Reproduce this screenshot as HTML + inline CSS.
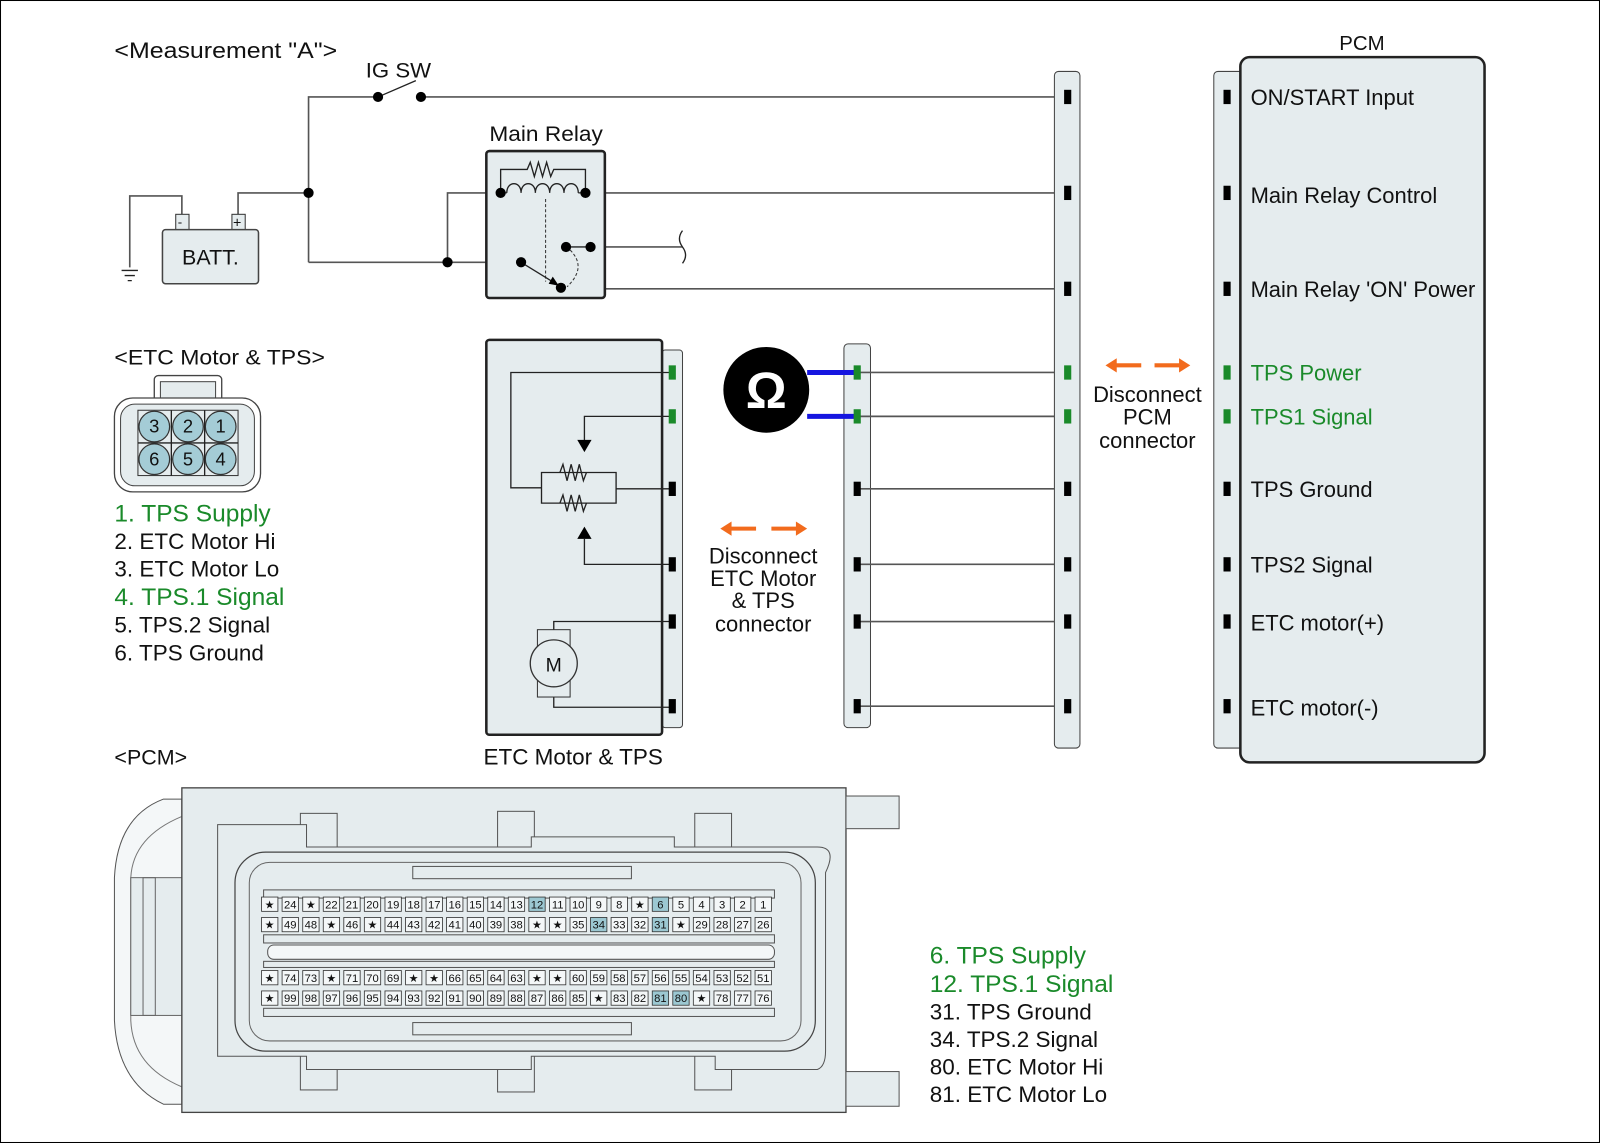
<!DOCTYPE html>
<html><head><meta charset="utf-8"><style>
html,body{margin:0;padding:0;background:#fff}
svg{display:block}
text{font-family:"Liberation Sans",sans-serif;fill:#111}
.g{fill:#1a8a2a}
.w{stroke:#555;stroke-width:1.6;fill:none}
.k{stroke:#222;stroke-width:1.3;fill:none}
.pt text{font-size:11px;text-anchor:middle}
</style></head><body>
<svg width="1600" height="1143" viewBox="0 0 1566 1120" preserveAspectRatio="none" xmlns="http://www.w3.org/2000/svg">
<defs>
<rect id="c" x="-8" y="-7" width="16" height="14" fill="#f4f7f8" stroke="#333" stroke-width="0.8"/>
<rect id="h" x="-8" y="-7" width="16" height="14" fill="#9cc8d2" stroke="#333" stroke-width="0.8"/>
<rect id="p" x="-3.5" y="-7" width="7" height="14" fill="#000"/>
<rect id="pg" x="-3.5" y="-7" width="7" height="14" fill="#1a8a2a"/>
</defs>
<rect x="0.5" y="0.5" width="1565" height="1119" fill="#fff" stroke="#000"/>

<!-- top labels -->
<text x="112" y="57" font-size="22" textLength="218" lengthAdjust="spacingAndGlyphs">&lt;Measurement "A"&gt;</text>
<text x="358" y="76" font-size="21" textLength="64" lengthAdjust="spacingAndGlyphs">IG SW</text>
<text x="479" y="138" font-size="21" textLength="111" lengthAdjust="spacingAndGlyphs">Main Relay</text>

<!-- wiring top -->
<path class="w" d="M302 257 V95 H370 M412 95 H1045 M302 189 H233 V210 M178 210 V192 H127 V262 M302 257 H510 M438 257 V189 H490 M573 189 H1045 M578 242 H668 M578 242 V283 H1045"/>
<path class="k" d="M370 95 L407 79"/>
<circle cx="370" cy="95" r="5" fill="#000"/><circle cx="412" cy="95" r="5" fill="#000"/>
<circle cx="302" cy="189" r="5" fill="#000"/><circle cx="438" cy="257" r="5" fill="#000"/>
<path class="k" d="M668 226 q-6 8 0 16 q6 8 0 16"/>
<path class="k" d="M119 265 H135 M122 270 H132 M125 275 H129"/>
<!-- battery -->
<rect x="172" y="210" width="13" height="15" fill="#e5ecee" stroke="#333"/>
<rect x="227" y="210" width="13" height="15" fill="#e5ecee" stroke="#333"/>
<text x="174" y="222" font-size="13">-</text><text x="228" y="223" font-size="14">+</text>
<rect x="159" y="225" width="94" height="53" rx="3" fill="#e5ecee" stroke="#444" stroke-width="1.5"/>
<text x="206" y="259" font-size="21" text-anchor="middle">BATT.</text>
<!-- relay -->
<rect x="476" y="148" width="116" height="144" rx="3" fill="#e5ecee" stroke="#222" stroke-width="2.5"/>
<path class="k" d="M490 189 V166 H516 l3 -7 l4 14 l4 -14 l4 14 l4 -14 l4 14 l3 -7 H573 V189"/>
<path class="k" d="M496 189 c0 -12 14 -12 14 0 c0 -12 14 -12 14 0 c0 -12 14 -12 14 0 c0 -12 14 -12 14 0 c0 -12 14 -12 14 0"/>
<path class="k" d="M490 189 H496 M566 189 H573"/>
<path d="M534 195 V276" stroke="#333" stroke-dasharray="3,2" fill="none"/>
<path d="M558 245 Q575 262 555 281" stroke="#333" stroke-dasharray="3,2" fill="none"/>
<path class="k" d="M510 257 L544 278"/><path d="M547 280 L537 278 L541 271 Z" fill="#000"/>
<path class="k" d="M554 242 H578"/>
<circle cx="490" cy="189" r="5" fill="#000"/><circle cx="573" cy="189" r="5" fill="#000"/>
<circle cx="510" cy="257" r="5" fill="#000"/><circle cx="549" cy="282" r="5" fill="#000"/>
<circle cx="554" cy="242" r="5" fill="#000"/><circle cx="578" cy="242" r="5" fill="#000"/>

<!-- ETC connector icon -->
<text x="112" y="357" font-size="21" textLength="206" lengthAdjust="spacingAndGlyphs">&lt;ETC Motor &amp; TPS&gt;</text>
<rect x="151" y="368" width="66" height="30" rx="4" fill="#fff" stroke="#444" stroke-width="1.3"/>
<rect x="157" y="374" width="54" height="24" fill="#e5ecee" stroke="#444"/>
<rect x="112" y="390" width="143" height="92" rx="18" fill="#fff" stroke="#444" stroke-width="1.3"/>
<rect x="118" y="396" width="131" height="80" rx="14" fill="#e5ecee" stroke="#444"/>
<rect x="135" y="402" width="98" height="64" fill="#e5ecee" stroke="#333"/>
<path class="k" d="M167.7 402 V466 M200.3 402 V466 M135 434 H233"/>
<g fill="#a4ccd6" stroke="#333" stroke-width="1.2">
<circle cx="151" cy="418" r="15"/><circle cx="184" cy="418" r="15"/><circle cx="216" cy="418" r="15"/>
<circle cx="151" cy="450" r="15"/><circle cx="184" cy="450" r="15"/><circle cx="216" cy="450" r="15"/></g>
<g font-size="18" text-anchor="middle">
<text x="151" y="424">3</text><text x="184" y="424">2</text><text x="216" y="424">1</text>
<text x="151" y="456">6</text><text x="184" y="456">5</text><text x="216" y="456">4</text></g>
<g font-size="22">
<text x="112" y="511" class="g" font-size="24">1. TPS Supply</text>
<text x="112" y="538">2. ETC Motor Hi</text>
<text x="112" y="565">3. ETC Motor Lo</text>
<text x="112" y="593" class="g" font-size="24">4. TPS.1 Signal</text>
<text x="112" y="620">5. TPS.2 Signal</text>
<text x="112" y="647">6. TPS Ground</text>
</g>

<!-- ETC Motor box -->
<rect x="648" y="343" width="20" height="370" rx="3" fill="#e5ecee" stroke="#444"/>
<rect x="476" y="333" width="172" height="387" rx="3" fill="#e5ecee" stroke="#222" stroke-width="2.5"/>
<text x="561" y="749" font-size="22" text-anchor="middle">ETC Motor &amp; TPS</text>
<path class="k" d="M658 365 H500 V478 H530 M530 463 H603 V493 H530 Z M603 479 H658 M658 408 H572 V432 M572 528 V553 H658 M542 627 V609 H658 M542 673 V693 H658"/>
<path class="k" d="M548 463 l3 -8 l4 16 l4 -16 l4 16 l4 -16 l4 16 l3 -8 M548 493 l3 -8 l4 16 l4 -16 l4 16 l4 -16 l4 16 l3 -8" fill="#e5ecee"/>
<path d="M565 431 H579 L572 443 Z M565 528 H579 L572 516 Z" fill="#000"/>
<rect x="526" y="617" width="32" height="66" fill="#e5ecee" stroke="#333"/>
<circle cx="542" cy="650" r="23" fill="#e5ecee" stroke="#333" stroke-width="1.3"/>
<text x="542" y="658" font-size="19" text-anchor="middle">M</text>
<use href="#pg" x="658" y="365"/><use href="#pg" x="658" y="408"/>
<use href="#p" x="658" y="479"/><use href="#p" x="658" y="553"/><use href="#p" x="658" y="609"/><use href="#p" x="658" y="692"/>

<!-- middle disconnect -->
<g fill="#f26b1d">
<path d="M705 518 L716 511 V516 H740 V520 H716 V525 Z"/><path d="M790 518 L779 511 V516 H755 V520 H779 V525 Z"/>
<path d="M1082 358 L1093 351 V356 H1117 V360 H1093 V365 Z"/><path d="M1165 358 L1154 351 V356 H1130 V360 H1154 V365 Z"/>
</g>
<g font-size="21.5" text-anchor="middle">
<text x="747" y="552">Disconnect</text><text x="747" y="574">ETC Motor</text><text x="747" y="596">&amp; TPS</text><text x="747" y="619">connector</text>
<text x="1123" y="394">Disconnect</text><text x="1123" y="416">PCM</text><text x="1123" y="439">connector</text>
</g>

<!-- middle strip -->
<rect x="826" y="337" width="26" height="376" rx="4" fill="#e5ecee" stroke="#444"/>
<path class="w" d="M839 365 H1045 M839 408 H1045 M839 479 H1045 M839 553 H1045 M839 609 H1045 M839 692 H1045"/>
<path d="M790 365 H839 M790 408 H839" stroke="#1515e0" stroke-width="5"/>
<circle cx="750" cy="382" r="42" fill="#000"/>
<text x="750" y="400" font-size="50" font-weight="bold" text-anchor="middle" style="fill:#fff">Ω</text>
<use href="#pg" x="839" y="365"/><use href="#pg" x="839" y="408"/>
<use href="#p" x="839" y="479"/><use href="#p" x="839" y="553"/><use href="#p" x="839" y="609"/><use href="#p" x="839" y="692"/>

<!-- PCM side strip -->
<rect x="1032" y="70" width="25" height="663" rx="4" fill="#e5ecee" stroke="#444"/>
<use href="#p" x="1045" y="95"/><use href="#p" x="1045" y="189"/><use href="#p" x="1045" y="283"/>
<use href="#pg" x="1045" y="365"/><use href="#pg" x="1045" y="408"/>
<use href="#p" x="1045" y="479"/><use href="#p" x="1045" y="553"/><use href="#p" x="1045" y="609"/><use href="#p" x="1045" y="692"/>

<!-- PCM box -->
<text x="1333" y="49" font-size="20" text-anchor="middle">PCM</text>
<rect x="1188" y="70" width="30" height="663" rx="4" fill="#e5ecee" stroke="#444"/>
<rect x="1214" y="56" width="239" height="691" rx="9" fill="#e5ecee" stroke="#222" stroke-width="2.5"/>
<use href="#p" x="1201" y="95"/><use href="#p" x="1201" y="189"/><use href="#p" x="1201" y="283"/>
<use href="#pg" x="1201" y="365"/><use href="#pg" x="1201" y="408"/>
<use href="#p" x="1201" y="479"/><use href="#p" x="1201" y="553"/><use href="#p" x="1201" y="609"/><use href="#p" x="1201" y="692"/>
<g font-size="21.5">
<text x="1224" y="103">ON/START Input</text>
<text x="1224" y="199">Main Relay Control</text>
<text x="1224" y="291" textLength="220" lengthAdjust="spacingAndGlyphs">Main Relay 'ON' Power</text>
<text x="1224" y="373" class="g">TPS Power</text>
<text x="1224" y="416" class="g">TPS1 Signal</text>
<text x="1224" y="487">TPS Ground</text>
<text x="1224" y="561">TPS2 Signal</text>
<text x="1224" y="618">ETC motor(+)</text>
<text x="1224" y="701">ETC motor(-)</text>
</g>

<!-- PCM connector -->
<text x="112" y="749" font-size="21">&lt;PCM&gt;</text>
<path d="M178 783 H160 Q115 800 112 860 V1000 Q115 1060 160 1082 H178 Z" fill="#f4f7f8" stroke="#555"/>
<path d="M178 800 Q130 820 128 860 V1000 Q130 1045 178 1065" fill="none" stroke="#777"/>
<rect x="128" y="860" width="50" height="135" fill="#e5ecee" stroke="#666"/>
<rect x="140" y="860" width="12" height="135" fill="none" stroke="#666"/>
<rect x="178" y="772" width="650" height="318" fill="#e5ecee" stroke="#444" stroke-width="1.3"/>
<rect x="828" y="780" width="52" height="32" fill="#e5ecee" stroke="#555"/>
<rect x="828" y="1050" width="52" height="34" fill="#e5ecee" stroke="#555"/>
<g fill="#e5ecee" stroke="#555">
<rect x="294" y="797" width="36" height="38"/><rect x="487" y="795" width="36" height="40"/><rect x="680" y="797" width="36" height="38"/>
<rect x="294" y="1030" width="36" height="38"/><rect x="487" y="1030" width="36" height="40"/><rect x="680" y="1030" width="36" height="38"/>
</g>
<path d="M213 808 H300 V830 H520 V820 H660 V830 H800 Q820 830 808 855 V1030 Q808 1045 800 1048 H700 V1035 H520 V1048 H300 V1035 H213 Z" fill="#e5ecee" stroke="#555"/>
<rect x="230" y="835" width="568" height="195" rx="30" fill="#e5ecee" stroke="#444" stroke-width="1.2"/>
<rect x="244" y="845" width="540" height="175" rx="20" fill="#e5ecee" stroke="#666"/>
<rect x="258" y="872" width="500" height="8" fill="none" stroke="#555"/>
<rect x="258" y="916" width="500" height="8" fill="none" stroke="#555"/>
<rect x="262" y="926" width="496" height="14" rx="6" fill="#f4f7f8" stroke="#555"/>
<rect x="258" y="942" width="500" height="6" fill="none" stroke="#555"/>
<rect x="258" y="988" width="500" height="8" fill="none" stroke="#555"/>
<rect x="404" y="849" width="214" height="12" fill="none" stroke="#555"/>
<rect x="404" y="1002" width="214" height="12" fill="none" stroke="#555"/>

<g class="pt">
<g transform="translate(0,886)">
<use href="#c" x="264"/><text x="264" y="4">★</text>
<use href="#c" x="284.1"/><text x="284.1" y="4">24</text>
<use href="#c" x="304.3"/><text x="304.3" y="4">★</text>
<use href="#c" x="324.4"/><text x="324.4" y="4">22</text>
<use href="#c" x="344.5"/><text x="344.5" y="4">21</text>
<use href="#c" x="364.6"/><text x="364.6" y="4">20</text>
<use href="#c" x="384.8"/><text x="384.8" y="4">19</text>
<use href="#c" x="404.9"/><text x="404.9" y="4">18</text>
<use href="#c" x="425"/><text x="425" y="4">17</text>
<use href="#c" x="445.1"/><text x="445.1" y="4">16</text>
<use href="#c" x="465.3"/><text x="465.3" y="4">15</text>
<use href="#c" x="485.4"/><text x="485.4" y="4">14</text>
<use href="#c" x="505.5"/><text x="505.5" y="4">13</text>
<use href="#h" x="525.6"/><text x="525.6" y="4">12</text>
<use href="#c" x="545.8"/><text x="545.8" y="4">11</text>
<use href="#c" x="565.9"/><text x="565.9" y="4">10</text>
<use href="#c" x="586"/><text x="586" y="4">9</text>
<use href="#c" x="606.1"/><text x="606.1" y="4">8</text>
<use href="#c" x="626.3"/><text x="626.3" y="4">★</text>
<use href="#h" x="646.4"/><text x="646.4" y="4">6</text>
<use href="#c" x="666.5"/><text x="666.5" y="4">5</text>
<use href="#c" x="686.6"/><text x="686.6" y="4">4</text>
<use href="#c" x="706.8"/><text x="706.8" y="4">3</text>
<use href="#c" x="726.9"/><text x="726.9" y="4">2</text>
<use href="#c" x="747"/><text x="747" y="4">1</text>
</g>
<g transform="translate(0,906)">
<use href="#c" x="264"/><text x="264" y="4">★</text>
<use href="#c" x="284.1"/><text x="284.1" y="4">49</text>
<use href="#c" x="304.3"/><text x="304.3" y="4">48</text>
<use href="#c" x="324.4"/><text x="324.4" y="4">★</text>
<use href="#c" x="344.5"/><text x="344.5" y="4">46</text>
<use href="#c" x="364.6"/><text x="364.6" y="4">★</text>
<use href="#c" x="384.8"/><text x="384.8" y="4">44</text>
<use href="#c" x="404.9"/><text x="404.9" y="4">43</text>
<use href="#c" x="425"/><text x="425" y="4">42</text>
<use href="#c" x="445.1"/><text x="445.1" y="4">41</text>
<use href="#c" x="465.3"/><text x="465.3" y="4">40</text>
<use href="#c" x="485.4"/><text x="485.4" y="4">39</text>
<use href="#c" x="505.5"/><text x="505.5" y="4">38</text>
<use href="#c" x="525.6"/><text x="525.6" y="4">★</text>
<use href="#c" x="545.8"/><text x="545.8" y="4">★</text>
<use href="#c" x="565.9"/><text x="565.9" y="4">35</text>
<use href="#h" x="586"/><text x="586" y="4">34</text>
<use href="#c" x="606.1"/><text x="606.1" y="4">33</text>
<use href="#c" x="626.3"/><text x="626.3" y="4">32</text>
<use href="#h" x="646.4"/><text x="646.4" y="4">31</text>
<use href="#c" x="666.5"/><text x="666.5" y="4">★</text>
<use href="#c" x="686.6"/><text x="686.6" y="4">29</text>
<use href="#c" x="706.8"/><text x="706.8" y="4">28</text>
<use href="#c" x="726.9"/><text x="726.9" y="4">27</text>
<use href="#c" x="747"/><text x="747" y="4">26</text>
</g>
<g transform="translate(0,958)">
<use href="#c" x="264"/><text x="264" y="4">★</text>
<use href="#c" x="284.1"/><text x="284.1" y="4">74</text>
<use href="#c" x="304.3"/><text x="304.3" y="4">73</text>
<use href="#c" x="324.4"/><text x="324.4" y="4">★</text>
<use href="#c" x="344.5"/><text x="344.5" y="4">71</text>
<use href="#c" x="364.6"/><text x="364.6" y="4">70</text>
<use href="#c" x="384.8"/><text x="384.8" y="4">69</text>
<use href="#c" x="404.9"/><text x="404.9" y="4">★</text>
<use href="#c" x="425"/><text x="425" y="4">★</text>
<use href="#c" x="445.1"/><text x="445.1" y="4">66</text>
<use href="#c" x="465.3"/><text x="465.3" y="4">65</text>
<use href="#c" x="485.4"/><text x="485.4" y="4">64</text>
<use href="#c" x="505.5"/><text x="505.5" y="4">63</text>
<use href="#c" x="525.6"/><text x="525.6" y="4">★</text>
<use href="#c" x="545.8"/><text x="545.8" y="4">★</text>
<use href="#c" x="565.9"/><text x="565.9" y="4">60</text>
<use href="#c" x="586"/><text x="586" y="4">59</text>
<use href="#c" x="606.1"/><text x="606.1" y="4">58</text>
<use href="#c" x="626.3"/><text x="626.3" y="4">57</text>
<use href="#c" x="646.4"/><text x="646.4" y="4">56</text>
<use href="#c" x="666.5"/><text x="666.5" y="4">55</text>
<use href="#c" x="686.6"/><text x="686.6" y="4">54</text>
<use href="#c" x="706.8"/><text x="706.8" y="4">53</text>
<use href="#c" x="726.9"/><text x="726.9" y="4">52</text>
<use href="#c" x="747"/><text x="747" y="4">51</text>
</g>
<g transform="translate(0,978)">
<use href="#c" x="264"/><text x="264" y="4">★</text>
<use href="#c" x="284.1"/><text x="284.1" y="4">99</text>
<use href="#c" x="304.3"/><text x="304.3" y="4">98</text>
<use href="#c" x="324.4"/><text x="324.4" y="4">97</text>
<use href="#c" x="344.5"/><text x="344.5" y="4">96</text>
<use href="#c" x="364.6"/><text x="364.6" y="4">95</text>
<use href="#c" x="384.8"/><text x="384.8" y="4">94</text>
<use href="#c" x="404.9"/><text x="404.9" y="4">93</text>
<use href="#c" x="425"/><text x="425" y="4">92</text>
<use href="#c" x="445.1"/><text x="445.1" y="4">91</text>
<use href="#c" x="465.3"/><text x="465.3" y="4">90</text>
<use href="#c" x="485.4"/><text x="485.4" y="4">89</text>
<use href="#c" x="505.5"/><text x="505.5" y="4">88</text>
<use href="#c" x="525.6"/><text x="525.6" y="4">87</text>
<use href="#c" x="545.8"/><text x="545.8" y="4">86</text>
<use href="#c" x="565.9"/><text x="565.9" y="4">85</text>
<use href="#c" x="586"/><text x="586" y="4">★</text>
<use href="#c" x="606.1"/><text x="606.1" y="4">83</text>
<use href="#c" x="626.3"/><text x="626.3" y="4">82</text>
<use href="#h" x="646.4"/><text x="646.4" y="4">81</text>
<use href="#h" x="666.5"/><text x="666.5" y="4">80</text>
<use href="#c" x="686.6"/><text x="686.6" y="4">★</text>
<use href="#c" x="706.8"/><text x="706.8" y="4">78</text>
<use href="#c" x="726.9"/><text x="726.9" y="4">77</text>
<use href="#c" x="747"/><text x="747" y="4">76</text>
</g>
</g>

<!-- right list -->
<g font-size="22">
<text x="910" y="944" class="g" font-size="24">6. TPS Supply</text>
<text x="910" y="972" class="g" font-size="24">12. TPS.1 Signal</text>
<text x="910" y="999">31. TPS Ground</text>
<text x="910" y="1026">34. TPS.2 Signal</text>
<text x="910" y="1053">80. ETC Motor Hi</text>
<text x="910" y="1080">81. ETC Motor Lo</text>
</g>
</svg>
</body></html>
